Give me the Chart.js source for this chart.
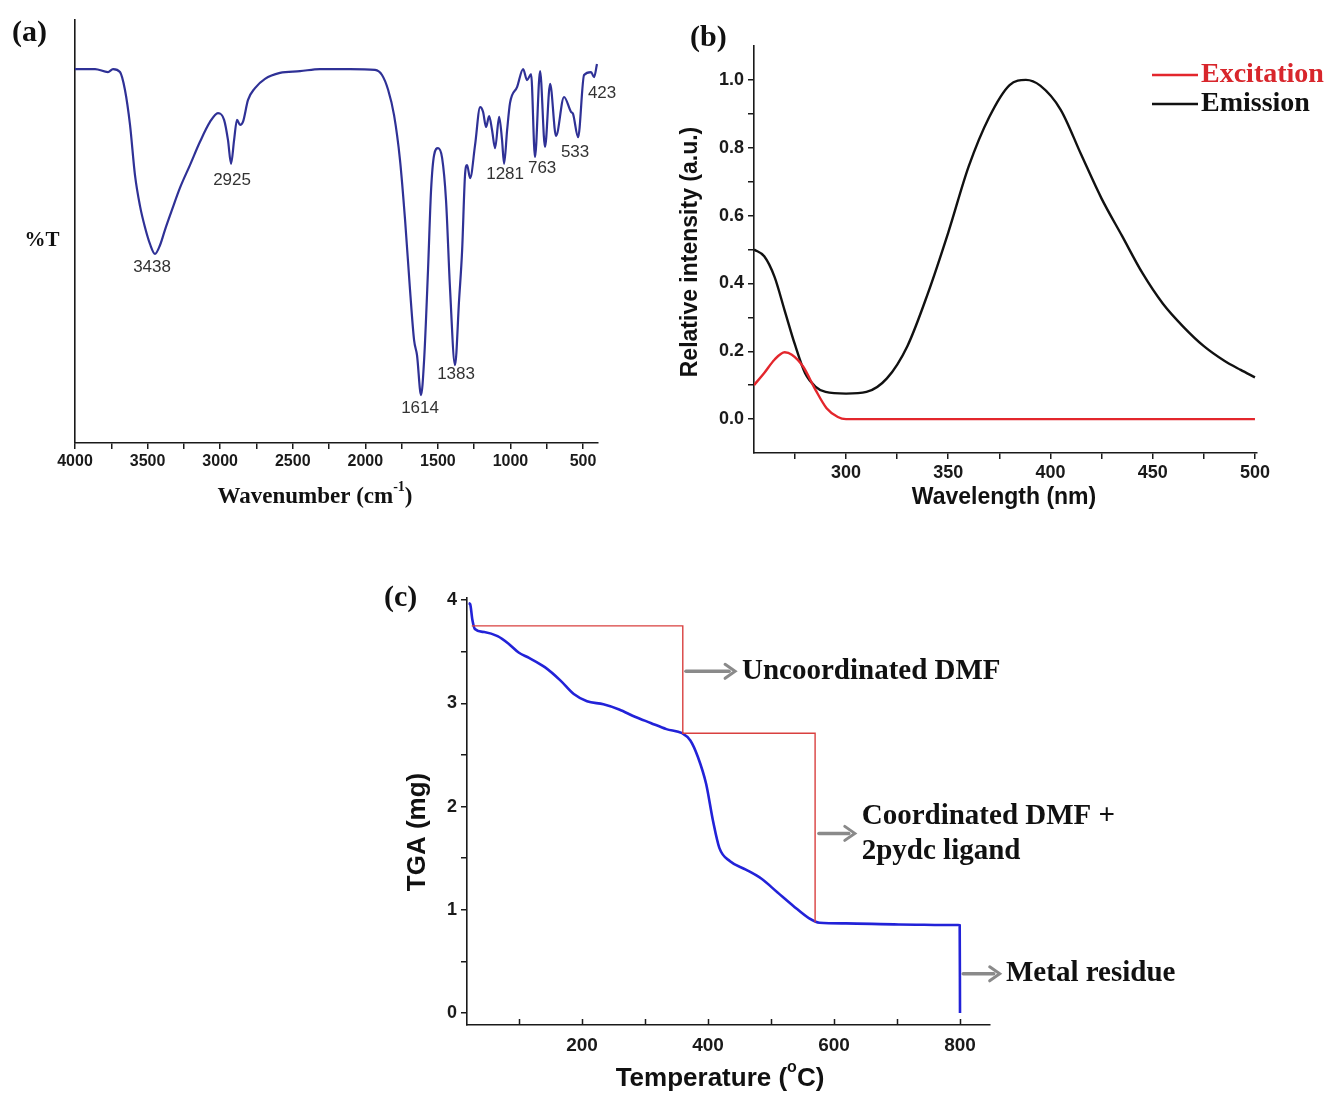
<!DOCTYPE html>
<html><head><meta charset="utf-8">
<script src="https://cdn.jsdelivr.net/npm/chart.js@4.4.0/dist/chart.umd.min.js"></script>
<style>
html,body{margin:0;padding:0;background:#fff;}
body{width:1338px;height:1095px;position:relative;overflow:hidden;}
canvas{position:absolute;left:0;top:0;}
</style></head><body>
<canvas id="ca" width="1338" height="1095"></canvas>
<canvas id="cb" width="1338" height="1095"></canvas>
<canvas id="cc" width="1338" height="1095"></canvas>
<script>
// ---------- (a) FTIR ----------
const irWavenumber = [4000,3862,3773,3738,3690,3656,3621,3587,3552,3518,3483,3449,3414,3380,3332,3277,3208,3139,3070,3015,2973,2946,2925,2904,2884,2863,2843,2808,2760,2691,2588,2450,2312,2105,1933,1885,1843,1802,1761,1726,1692,1664,1644,1616,1595,1568,1547,1526,1499,1471,1444,1416,1382,1354,1333,1313,1299,1278,1244,1209,1189,1168,1147,1127,1106,1078,1058,1044,1023,1003,954,913,886,858,831,796,762,727,686,631,583,569,534,493,445,424,404];
const irTransmittance = [88.4,88.4,87.7,88.4,87.7,83.5,75.2,63.4,56.0,51.0,47.0,44.7,46.8,50.4,55.1,60.3,65.7,71.2,75.9,78.0,76.4,71.6,66.0,71.6,76.4,75.2,75.9,81.1,83.9,86.1,87.5,87.9,88.4,88.4,88.2,87.0,83.5,77.5,66.9,52.7,36.2,24.3,20.8,11.3,19.6,40.9,59.8,68.1,69.7,67.4,57.4,36.2,18.4,33.8,45.6,63.4,65.7,62.6,70.4,79.4,78.3,74.7,77.3,74.0,69.7,77.1,71.6,66.0,74.0,80.4,84.2,88.4,85.8,87.2,67.6,87.9,70.0,84.9,72.6,81.8,78.3,77.8,72.3,87.0,87.7,86.5,89.6];
const irPeakLabels = ['3438','2925','1614','1383','1281','763','533','423'];
const irPeakLabelX = [3469,2918,1623,1375,1037,782,555,369];
const irPeakLabelY = [41.6,62.2,8.3,16.3,63.6,65.0,68.8,82.7];
const irTicks = [4000,3750,3500,3250,3000,2750,2500,2250,2000,1750,1500,1250,1000,750,500];
const irTickLabels = [4000,3500,3000,2500,2000,1500,1000,500];

// ---------- (b) photoluminescence ----------
const excWavelength = [255,260,265,270,273.5,279,285,290.5,296,300,320,350,400,450,500];
const excIntensity = [0.10,0.136,0.175,0.197,0.19,0.155,0.087,0.032,0.006,0.0,0.0,0.0,0.0,0.0,0.0];
const emWavelength = [255,260,265,270,275,280,285,290,300,310,320,330,340,350,360,370,380,388,395,405,415,425,435,445,455,465,475,485,493,500];
const emIntensity = [0.50,0.48,0.42,0.32,0.22,0.135,0.096,0.08,0.075,0.08,0.12,0.215,0.37,0.55,0.745,0.89,0.985,1.0,0.983,0.912,0.78,0.65,0.54,0.43,0.34,0.272,0.215,0.172,0.145,0.123];
const plXTicks = [275,300,325,350,375,400,425,450,475,500];
const plXTickLabels = [300,350,400,450,500];
const plYTicks = [0,0.1,0.2,0.3,0.4,0.5,0.6,0.7,0.8,0.9,1.0];
const plYTickLabels = [0,0.2,0.4,0.6,0.8,1.0];
const plSeriesNames = ['Excitation','Emission'];

// ---------- (c) TGA ----------
const tgaTemp = [20,22.5,26,30,45,66,83,100,116,141,166,187,208,234,259,284,309,334,359,372,384,397,408,418,435,460,485,510,535,560,577,619,703,797,799.5,800];
const tgaMass = [3.97,3.96,3.81,3.72,3.69,3.65,3.58,3.49,3.44,3.35,3.22,3.09,3.02,2.99,2.94,2.87,2.81,2.75,2.71,2.64,2.48,2.22,1.86,1.60,1.47,1.39,1.30,1.17,1.04,0.92,0.875,0.868,0.858,0.852,0.85,0.0];
const stepTemp = [25,360,360,570,570];
const stepMass = [3.75,3.75,2.71,2.71,0.88];
const tgaXTicks = [100,200,300,400,500,600,700,800];
const tgaXTickLabels = [200,400,600,800];
const tgaYTicks = [0,0.5,1,1.5,2,2.5,3,3.5,4];
const tgaYTickLabels = [0,1,2,3,4];
const noteLines = [['Uncoordinated DMF'],['Coordinated DMF +','2pydc ligand'],['Metal residue']];
const noteArrowFrom = [365,576,805];
const noteArrowTo = [443,633,863];
const noteArrowY = [3.31,1.74,0.38];
const noteTextX = [454,644,873];
const noteTextY = [[3.31],[1.90,1.56],[0.38]];

// ---------- helpers ----------
const SANS = 'Arial, "Liberation Sans", sans-serif';
const SERIF = '"Times New Roman", "Liberation Serif", serif';
const AX = '#1a1a1a';

function xy(xs, ys){ return xs.map((x,i)=>({x:x, y:ys[i]})); }

function axis(o){
  return {
    type:'linear', min:o.min, max:o.max, reverse:!!o.reverse,
    afterBuildTicks(s){ s.ticks = o.ticks.map(v=>({value:v})); },
    afterFit(s){ if(o.isX) s.height=o.size; else s.width=o.size; },
    ticks:{ display:o.showLabels!==false, autoSkip:false, maxRotation:0, minRotation:0, color:AX, padding:o.pad||3,
      font:{family:SANS, weight:'bold', size:o.fontSize||15},
      callback:(v)=> o.labeled.indexOf(v)>=0 ? o.fmt(v) : '' },
    grid:{ display:o.ticks.length>0, drawOnChartArea:false, drawTicks:o.inward?false:true, tickLength:6, color:AX, lineWidth:1.5 },
    border:{ display:true, color:AX, width:1.6 }
  };
}

function rich(ctx, parts, cx, cy, size, family, color){
  ctx.save(); ctx.fillStyle=color; ctx.textBaseline='middle'; ctx.textAlign='left';
  const fonts = parts.map(p=>'bold '+(p.sup?Math.round(size*0.62):size)+'px '+family);
  const w = parts.map((p,i)=>{ctx.font=fonts[i]; return ctx.measureText(p.t).width;});
  let x = cx - w.reduce((a,b)=>a+b,0)/2;
  parts.forEach((p,i)=>{ ctx.font=fonts[i]; ctx.fillText(p.t, x, p.sup? cy-size*0.42 : cy); x+=w[i]; });
  ctx.restore();
}
function text(ctx, s, x, y, font, color, align, rot){
  ctx.save(); ctx.font=font; ctx.fillStyle=color; ctx.textAlign=align||'center'; ctx.textBaseline='middle';
  ctx.translate(x,y); if(rot) ctx.rotate(rot); ctx.fillText(s,0,0); ctx.restore();
}

const base = { responsive:false, animation:false, events:[], plugins:{legend:{display:false}, tooltip:{enabled:false}} };

// ---------- chart (a) ----------
new Chart(document.getElementById('ca'), {
  type:'line',
  data:{ datasets:[{ data:xy(irWavenumber, irTransmittance), borderColor:'#2f3196', borderWidth:2.2, pointRadius:0, cubicInterpolationMode:'monotone', fill:false }]},
  options:Object.assign({}, base, {
    layout:{ padding:{ left:15, top:20, right:740, bottom:612 } },
    scales:{
      x: axis({isX:true, size:40, min:397, max:4000, reverse:true, ticks:irTicks, labeled:irTickLabels, fmt:v=>String(v), fontSize:16}),
      y: axis({isX:false, size:60, min:0, max:100, ticks:[], labeled:[], fmt:v=>'', showLabels:false})
    }
  }),
  plugins:[{ id:'annA', afterDraw(chart){
    const ctx=chart.ctx, xs=chart.scales.x, ys=chart.scales.y;
    irPeakLabels.forEach((s,i)=> text(ctx, s, xs.getPixelForValue(irPeakLabelX[i]), ys.getPixelForValue(irPeakLabelY[i]), '17px '+SANS, '#333'));
    text(ctx,'(a)', 12, 33, 'bold 30px '+SERIF, '#111', 'left');
    text(ctx,'%T', 42, 241, 'bold 21px '+SERIF, '#111');
    rich(ctx,[{t:'Wavenumber (cm'},{t:'-1',sup:true},{t:')'}], 315, 497, 23, SERIF, '#111');
  }}]
});

// ---------- chart (b) ----------
new Chart(document.getElementById('cb'), {
  type:'line',
  data:{ datasets:[
    { label:plSeriesNames[0], data:xy(excWavelength, excIntensity), borderColor:'#e3262c', borderWidth:2.4, pointRadius:0, cubicInterpolationMode:'monotone', fill:false },
    { label:plSeriesNames[1], data:xy(emWavelength, emIntensity), borderColor:'#111111', borderWidth:2.4, pointRadius:0, cubicInterpolationMode:'monotone', fill:false }
  ]},
  options:Object.assign({}, base, {
    layout:{ padding:{ left:694, top:46, right:81, bottom:602 } },
    scales:{
      x: axis({isX:true, size:40, min:255, max:501, ticks:plXTicks, labeled:plXTickLabels, fmt:v=>String(v), fontSize:18}),
      y: axis({isX:false, size:60, min:-0.1, max:1.1, ticks:plYTicks, labeled:plYTickLabels, fmt:v=>v.toFixed(1), fontSize:18, pad:4})
    }
  }),
  plugins:[{ id:'annB', afterDraw(chart){
    const ctx=chart.ctx;
    text(ctx,'(b)', 690, 38, 'bold 30px '+SERIF, '#111', 'left');
    text(ctx,'Relative intensity (a.u.)', 691, 252, 'bold 23px '+SANS, '#111', 'center', -Math.PI/2);
    text(ctx,'Wavelength (nm)', 1004, 498, 'bold 23px '+SANS, '#111');
    chart.data.datasets.forEach((d,i)=>{
      const y = 75 + i*29;
      ctx.save(); ctx.strokeStyle=d.borderColor; ctx.lineWidth=2.4;
      ctx.beginPath(); ctx.moveTo(1152,y); ctx.lineTo(1198,y); ctx.stroke(); ctx.restore();
      text(ctx, d.label, 1201, y, 'bold 28px '+SERIF, i===0?'#d8262c':'#111', 'left');
    });
  }}]
});

// ---------- chart (c) ----------
new Chart(document.getElementById('cc'), {
  type:'line',
  data:{ datasets:[
    { data:xy(stepTemp, stepMass), borderColor:'#d9403f', borderWidth:1.4, pointRadius:0, tension:0, fill:false },
    { data:xy(tgaTemp, tgaMass), borderColor:'#2222d8', borderWidth:2.6, pointRadius:0, cubicInterpolationMode:'monotone', fill:false }
  ]},
  options:Object.assign({}, base, {
    layout:{ padding:{ left:427, top:598, right:348, bottom:30 } },
    scales:{
      x: axis({isX:true, size:40, min:17.5, max:847.6, ticks:tgaXTicks, labeled:tgaXTickLabels, fmt:v=>String(v), fontSize:19, inward:true, pad:9}),
      y: axis({isX:false, size:40, min:-0.116, max:4.02, ticks:tgaYTicks, labeled:tgaYTickLabels, fmt:v=>String(v), fontSize:18, pad:4})
    }
  }),
  plugins:[{ id:'annC', afterDraw(chart){
    const ctx=chart.ctx, xs=chart.scales.x, ys=chart.scales.y, ca=chart.chartArea;
    ctx.save(); ctx.strokeStyle=AX; ctx.lineWidth=1.5; ctx.beginPath();
    tgaXTicks.forEach(v=>{ const px=Math.round(xs.getPixelForValue(v))+0.5; ctx.moveTo(px, ca.bottom); ctx.lineTo(px, ca.bottom-6); });
    ctx.stroke(); ctx.restore();
    text(ctx,'(c)', 384, 598, 'bold 30px '+SERIF, '#111', 'left');
    text(ctx,'TGA (mg)', 418, 832, 'bold 26px '+SANS, '#111', 'center', -Math.PI/2);
    rich(ctx,[{t:'Temperature ('},{t:'o',sup:true},{t:'C)'}], 720, 1079, 26, SANS, '#111');
    noteLines.forEach((lines,i)=>{
      const x0=xs.getPixelForValue(noteArrowFrom[i]), x1=xs.getPixelForValue(noteArrowTo[i]), y=ys.getPixelForValue(noteArrowY[i]);
      ctx.save(); ctx.strokeStyle='#8a8a8a'; ctx.fillStyle='#8a8a8a'; ctx.lineWidth=3.5; ctx.lineCap='round';
      ctx.beginPath(); ctx.moveTo(x0,y); ctx.lineTo(x1-6,y); ctx.stroke();
      ctx.lineWidth=3; ctx.beginPath(); ctx.moveTo(x1-10,y-7); ctx.lineTo(x1,y); ctx.lineTo(x1-10,y+7); ctx.stroke();
      ctx.restore();
      lines.forEach((s,j)=> text(ctx, s, xs.getPixelForValue(noteTextX[i]), ys.getPixelForValue(noteTextY[i][j]), 'bold 29px '+SERIF, '#111', 'left'));
    });
  }}]
});
</script>
</body></html>
